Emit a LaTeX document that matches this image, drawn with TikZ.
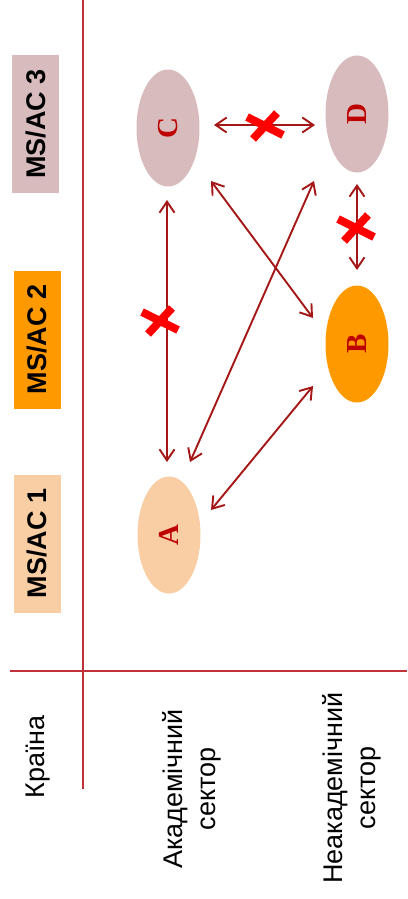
\documentclass[tikz,border=0pt]{standalone}
\usepackage{fontspec}
\usepackage{graphicx}
\setmainfont{Liberation Sans}
\newfontfamily\serifbold{Liberation Serif}
\usetikzlibrary{arrows.meta,shapes.geometric}
\definecolor{gridred}{RGB}{192,50,58}
\definecolor{arrowred}{RGB}{165,22,22}
\definecolor{letterred}{RGB}{190,0,0}
\definecolor{crossred}{RGB}{255,0,0}
\definecolor{pinkfill}{RGB}{216,187,189}
\definecolor{orangefill}{RGB}{255,153,0}
\definecolor{peachfill}{RGB}{249,206,164}
\tikzset{
  gridline/.style={draw=gridred, line width=1.5pt},
  ell/.style={ellipse, minimum width=63pt, minimum height=117pt, inner sep=0pt, draw=none,
    font=\serifbold\bfseries\fontsize{29}{32}\selectfont, text=letterred},
  conn/.style={draw=arrowred, line width=1.9pt,
    {Straight Barb[length=11pt,width=15pt]}-{Straight Barb[length=11pt,width=15pt]}},
  msbox/.style={rotate=90, minimum width=138pt, minimum height=47pt, inner sep=0pt,
    font=\bfseries\fontsize{27}{30}\selectfont},
  rowlabel/.style={rotate=90, align=center, font=\fontsize{27}{33}\selectfont},
  crossstroke/.style={draw=crossred, line width=8pt},
  crossmark/.pic={
    \draw[crossstroke] (-18,-9) -- (18,9);
    \draw[crossstroke] (-12,13) -- (12,-13);
  }
}
\begin{document}
\begin{tikzpicture}[x=1pt,y=-1pt]
\useasboundingbox (0,0) rectangle (407,899);
% grid lines
\coordinate (vtop) at (83,0);
\coordinate (vbot) at (83,789);
\coordinate (hl) at (10,671);
\coordinate (hr) at (407,671);
\draw[gridline] (vtop) -- (vbot);
\draw[gridline] (hl) -- (hr);
% column headers
\node[msbox, fill=pinkfill] (m3) at (35.5,124) {MS/AC 3};
\node[msbox, fill=orangefill] (m2) at (37,339.5) {MS/AC 2};
\node[msbox, fill=peachfill] (m1) at (37,543.5) {MS/AC 1};
% row labels
\node[rowlabel] (country) at (38,757) {Країна};
\node[rowlabel] (acad) at (192,789) {Академічний\\сектор};
\node[rowlabel] (nonacad) at (352,788) {Неакадемічний\\сектор};
% ellipses
\node[ell, fill=pinkfill] (C) at (168,128) {\rotatebox{90}{C}};
\node[ell, fill=pinkfill] (D) at (357,114) {\rotatebox{90}{D}};
\node[ell, fill=orangefill] (B) at (357,344) {\rotatebox{90}{B}};
\node[ell, fill=peachfill] (A) at (169,535) {\rotatebox{90}{A}};
% connectors
\draw[conn] ([shift={(46,-3)}]C.center) -- ([shift={(-42,11)}]D.center);
\draw[conn] ([shift={(0,70)}]D.center) -- ([shift={(0,-74)}]B.center);
\draw[conn] ([shift={(-1,72)}]C.center) -- ([shift={(-2,-73)}]A.center);
\draw[conn] ([shift={(43,53)}]C.center) -- ([shift={(-44,-26)}]B.center);
\draw[conn] ([shift={(-43,67)}]D.center) -- ([shift={(21,-73)}]A.center);
\draw[conn] ([shift={(-44,42)}]B.center) -- ([shift={(42,-25)}]A.center);
% crosses
\pic at (265,126) {crossmark};
\pic at (356,228) {crossmark};
\pic at (160,321) {crossmark};
\end{tikzpicture}
\end{document}
